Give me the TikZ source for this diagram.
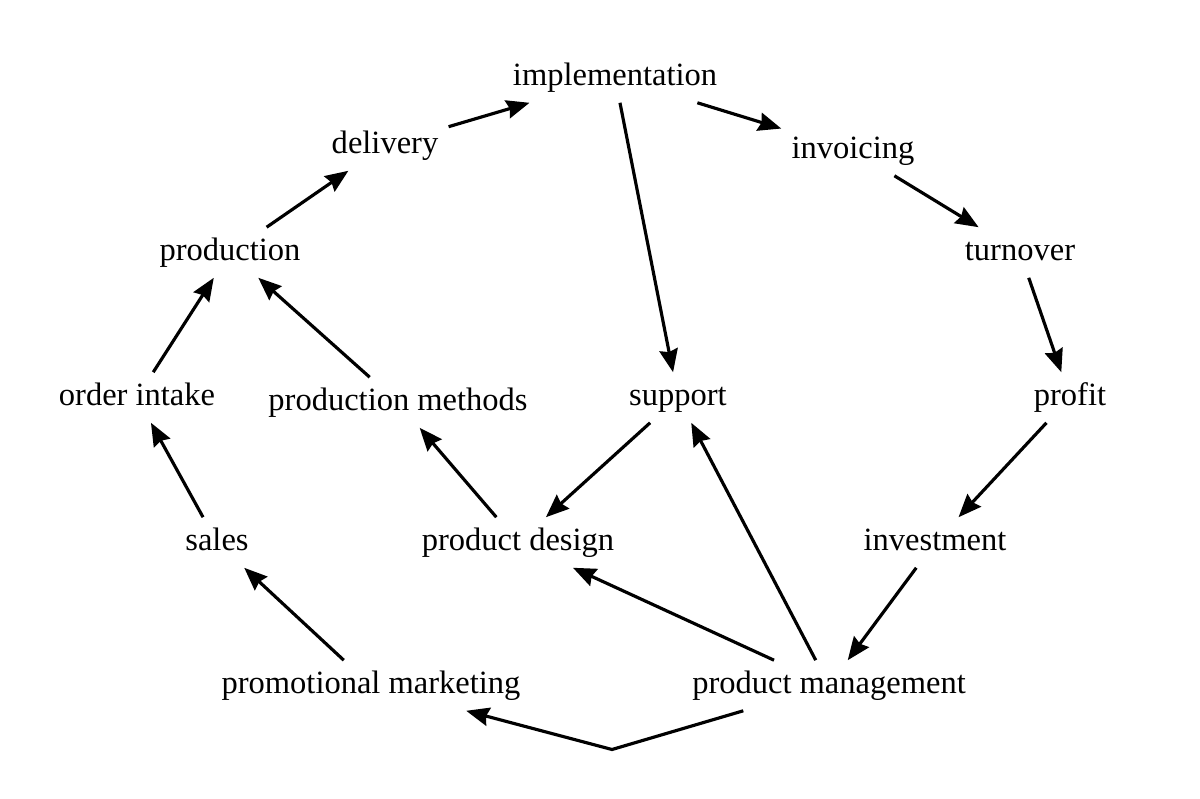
\documentclass[tikz,border=0pt]{standalone}
\usepackage{fontspec}
\setmainfont{Liberation Serif}
\usetikzlibrary{arrows.meta}
\begin{document}
\begin{tikzpicture}[every node/.style={font=\fontsize{18.5}{22}\selectfont,inner sep=0.2cm,text height=13pt,text depth=4pt,yshift=-0.05cm},
    flow/.style={-{Stealth[length=0.46cm,width=0.37cm,inset=0.05cm]},line width=1.8pt}]
        \useasboundingbox (0,0) rectangle (24,15.96);
        % upper ring
        \node (impl) at (12.3,14.46) {implementation};
        \node (deliv) at (7.7,13.1) {delivery};
        \node (invoic) at (17.06,13.0) {invoicing};
        \node (prod) at (4.6,10.96) {production};
        \node (turn) at (20.4,10.96) {turnover};
        \node (order) at (2.74,8.06) {order intake};
        \node (methods) at (7.96,7.96) {production methods};
        \node (support) at (13.56,8.06) {support};
        \node (profit) at (21.4,8.06) {profit};
        % lower ring
        \node (sales) at (4.34,5.16) {sales};
        \node (design) at (10.36,5.16) {product design};
        \node (invest) at (18.7,5.16) {investment};
        \node (promo) at (7.42,2.3) {promotional marketing};
        \node (pm) at (16.58,2.3) {product management};
        \coordinate (knee) at (12.24,1.02);
        \draw[flow] (prod)--(deliv);
        \draw[flow] (deliv)--(impl);
        \draw[flow] (impl)--(invoic);
        \draw[flow] (invoic)--(turn);
        \draw[flow] (turn)--(profit);
        \draw[flow] (profit)--(invest);
        \draw[flow] (invest)--(pm);
        \draw[flow] (impl)--(support);
        \draw[flow] (support)--(design);
        \draw[flow] (pm)--(support);
        \draw[flow] (pm)--(design);
        \draw[flow] (pm)--(knee)--(promo);
        \draw[flow] (promo)--(sales);
        \draw[flow] (sales)--(order);
        \draw[flow] (order)--(prod);
        \draw[flow] (design)--(methods);
        \draw[flow] (methods)--(prod);
    \end{tikzpicture}
\end{document}
